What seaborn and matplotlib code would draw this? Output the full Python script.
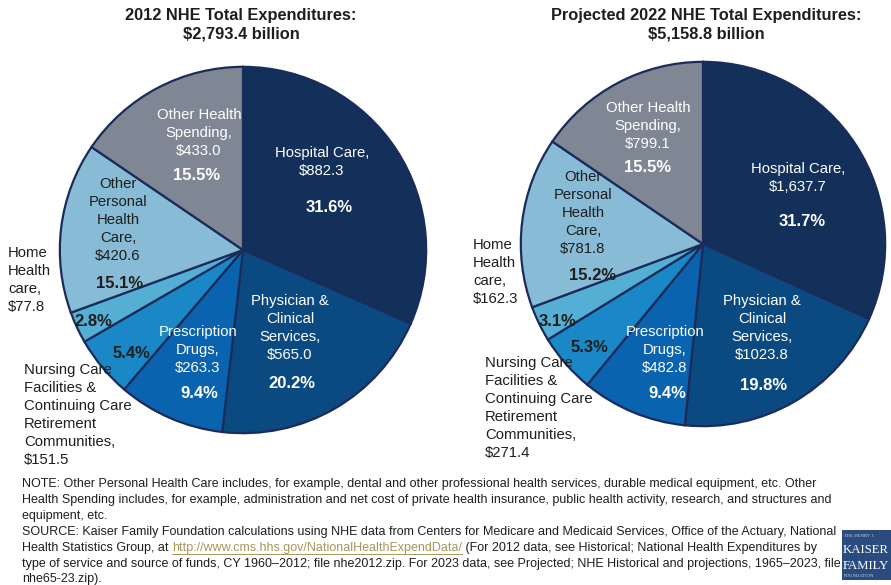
import matplotlib
matplotlib.use("Agg")
import matplotlib.pyplot as plt
import seaborn as sns

sns.set_theme(style="white")
plt.rcParams['font.family'] = ['Liberation Sans', 'DejaVu Sans']

# data
categories = ["Hospital Care", "Physician & Clinical Services", "Prescription Drugs",
              "Nursing Care Facilities & Continuing Care Retirement Communities",
              "Home Health care", "Other Personal Health Care", "Other Health Spending"]
spend_2012 = [882.3, 565.0, 263.3, 151.5, 77.8, 420.6, 433.0]
spend_2022 = [1637.7, 1023.8, 482.8, 271.4, 162.3, 781.8, 799.1]
pct_2012 = ["31.6%", "20.2%", "9.4%", "5.4%", "2.8%", "15.1%", "15.5%"]
pct_2022 = ["31.7%", "19.8%", "9.4%", "5.3%", "3.1%", "15.2%", "15.5%"]
money_2012 = ["$882.3", "$565.0", "$263.3", "$151.5", "$77.8", "$420.6", "$433.0"]
money_2022 = ["$1,637.7", "$1023.8", "$482.8", "$271.4", "$162.3", "$781.8", "$799.1"]
titles = ["2012 NHE Total Expenditures:\n$2,793.4 billion",
          "Projected 2022 NHE Total Expenditures:\n$5,158.8 billion"]

# label text per wedge (how the name wraps)
name_lines = ["Hospital Care,", "Physician &\nClinical\nServices,", "Prescription\nDrugs,",
              "Nursing Care\nFacilities &\nContinuing Care\nRetirement\nCommunities,",
              "Home\nHealth\ncare,", "Other\nPersonal\nHealth\nCare,", "Other Health\nSpending,"]

colors = sns.color_palette(["#12305A", "#0B4A80", "#0A63AE", "#1A88C6",
                            "#55AED4", "#88BBD6", "#7F8794"])
edge = "#1B2B5A"

W, H = 891, 585
fig = plt.figure(figsize=(W / 100, H / 100), dpi=100)

def fx(px):
    return px / W

def fy(py):
    return 1 - py / H

# layout: pie centre/radius in pixels, label positions in pixels
pies = [
    dict(cx=243, cy=250, r=185, tx=241, spend=spend_2012, pct=pct_2012, money=money_2012,
         name_pos=[(322, 162), (290, 328), (198, 350), None, None, (118, 220), (199, 133)],
         pct_pos=[(329, 207), (292, 383), (199, 393), (131, 353), (93, 321), (120, 283), (197, 175)],
         out_pos={3: (24, 415), 4: (8, 280)}),
    dict(cx=703, cy=244, r=184, tx=706, spend=spend_2022, pct=pct_2022, money=money_2022,
         name_pos=[(798, 178), (762, 328), (665, 350), None, None, (583, 213), (648, 126)],
         pct_pos=[(802, 222), (764, 385), (667, 393), (589, 347), (558, 321), (593, 275), (648, 167)],
         out_pos={3: (485, 408), 4: (473, 272)}),
]

light = {3, 4, 5}
dark_txt = "#1E1E1E"
lab_fs = 10.7

for i, p in enumerate(pies):
    ax = fig.add_axes([fx(p["cx"] - p["r"]), fy(p["cy"] + p["r"]),
                       2 * p["r"] / W, 2 * p["r"] / H])
    ax.pie(p["spend"], colors=colors, startangle=90, counterclock=False,
           wedgeprops=dict(edgecolor=edge, linewidth=1.6))
    ax.set_xlim(-1.01, 1.01)
    ax.set_ylim(-1.01, 1.01)
    ax.axis("off")

    fig.text(fx(p["tx"]), fy(25), titles[i], ha="center", va="center",
             fontsize=11.8, fontweight="bold", color="#1E1E1E", linespacing=1.3)

    for k in range(len(categories)):
        pos = p["name_pos"][k]
        if pos is not None:
            col = dark_txt if k == 5 else "white"
            fig.text(fx(pos[0]), fy(pos[1]), name_lines[k] + "\n" + p["money"][k],
                     ha="center", va="center", fontsize=lab_fs, color=col, linespacing=1.38)
        ppos = p["pct_pos"][k]
        fig.text(fx(ppos[0]), fy(ppos[1]), p["pct"][k], ha="center", va="center",
                 fontsize=12, fontweight="bold",
                 color=dark_txt if k in light else "white")
    for k, pos in p["out_pos"].items():
        fig.text(fx(pos[0]), fy(pos[1]), name_lines[k] + "\n" + p["money"][k],
                 ha="left", va="center", fontsize=lab_fs, color=dark_txt, linespacing=1.38)

# notes
note_fs = 9.0
note_col = "#1E1E1E"
note_lines = [
    (484, "NOTE: Other Personal Health Care includes, for example, dental and other professional health services, durable medical equipment, etc. Other"),
    (500, "Health Spending includes, for example, administration and net cost of private health insurance, public health activity, research, and structures and"),
    (516, "equipment, etc."),
    (532, "SOURCE: Kaiser Family Foundation calculations using NHE data from Centers for Medicare and Medicaid Services, Office of the Actuary, National"),
    (564, "type of service and source of funds, CY 1960\u20132012; file nhe2012.zip. For 2023 data, see Projected; NHE Historical and projections, 1965\u20132023, file"),
    (579, "nhe65-23.zip)."),
]
for y, s in note_lines:
    fig.text(fx(22), fy(y), s, ha="left", va="center", fontsize=note_fs, color=note_col)

# line with the link
renderer = fig.canvas.get_renderer()
parts = [("Health Statistics Group, at ", note_col, False),
         ("http://www.cms.hhs.gov/NationalHealthExpendData/", "#A8975A", True),
         (" (For 2012 data, see Historical; National Health Expenditures by", note_col, False)]
x0 = 22
for s, c, ul in parts:
    t = fig.text(fx(x0), fy(548), s, ha="left", va="center", fontsize=note_fs, color=c)
    bb = t.get_window_extent(renderer)
    if ul:
        fig.add_artist(plt.Line2D([fx(x0), fx(x0 + bb.width)], [fy(554), fy(554)],
                                  transform=fig.transFigure, color=c, linewidth=0.7))
    x0 += bb.width

# logo
fig.add_artist(plt.Rectangle((fx(842), fy(580)), fx(60), 50 / H, transform=fig.transFigure,
                             facecolor="#2B4A7E", edgecolor="none"))
fig.text(fx(844), fy(536), "THE HENRY J.", fontsize=3.4, color="#C9D3E3",
         family="Liberation Serif", ha="left", va="center")
fig.text(fx(843), fy(550), "KAISER", fontsize=9.2, color="white",
         family="Liberation Serif", ha="left", va="center")
fig.text(fx(843), fy(566), "FAMILY", fontsize=9.2, color="white",
         family="Liberation Serif", ha="left", va="center")
fig.text(fx(844), fy(576), "FOUNDATION", fontsize=3.4, color="#C9D3E3",
         family="Liberation Serif", ha="left", va="center")

fig.savefig("out.png", dpi=100)
